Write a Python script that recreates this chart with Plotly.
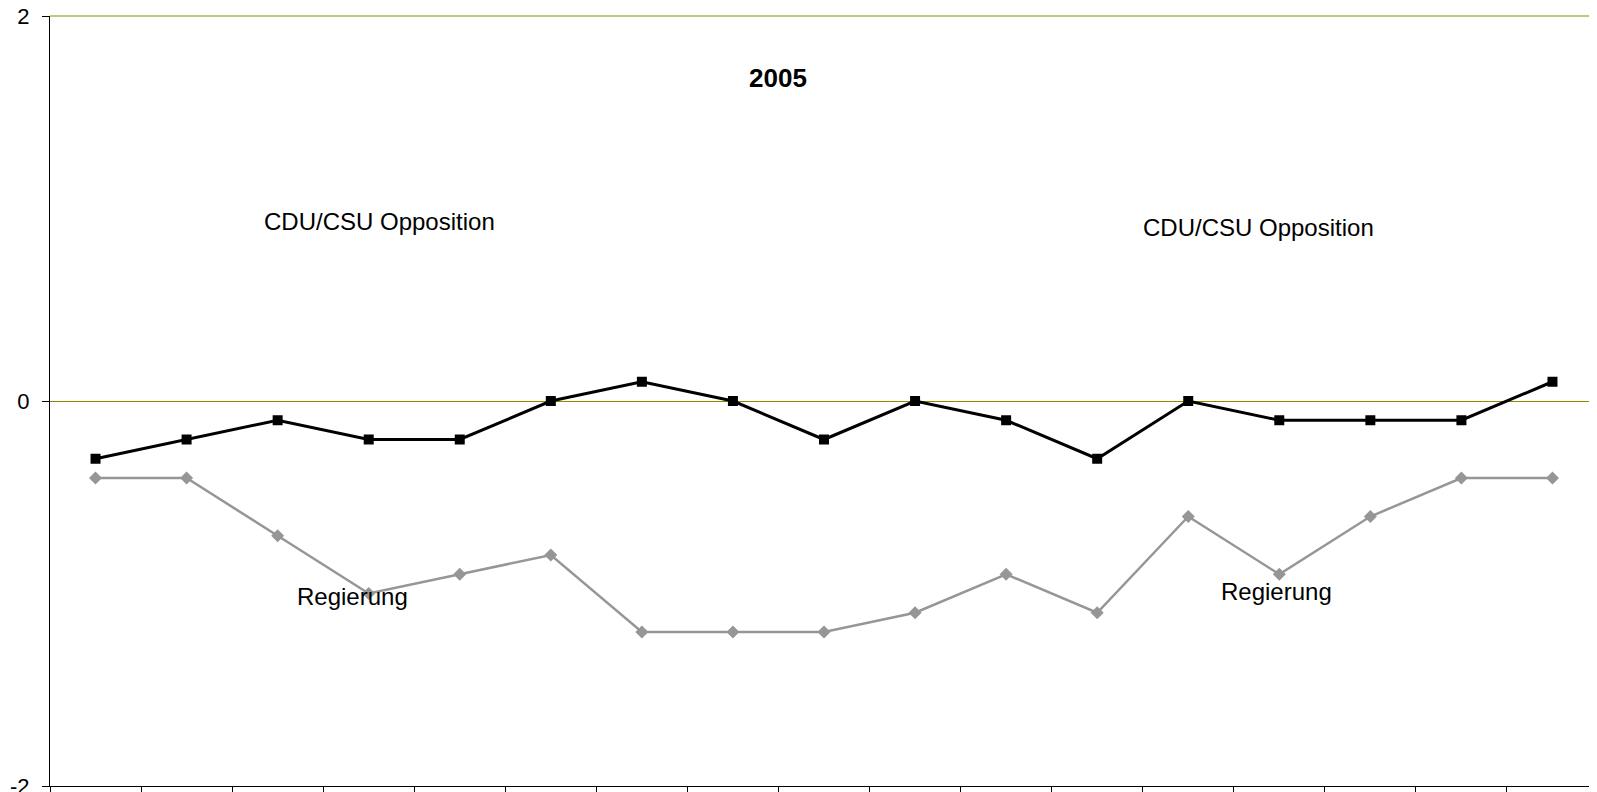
import plotly.graph_objects as go

categories = [str(i) for i in range(1, 18)]
opposition = [-0.3, -0.2, -0.1, -0.2, -0.2, 0.0, 0.1, 0.0, -0.2, 0.0, -0.1, -0.3, 0.0, -0.1, -0.1, -0.1, 0.1]
regierung = [-0.4, -0.4, -0.7, -1.0, -0.9, -0.8, -1.2, -1.2, -1.2, -1.1, -0.9, -1.1, -0.6, -0.9, -0.6, -0.4, -0.4]
y_ticks = [-2, 0, 2]

fig = go.Figure()
fig.add_trace(go.Scatter(
    x=categories, y=regierung, mode="lines+markers", name="Regierung",
    line=dict(color="#969696", width=2.5),
    marker=dict(symbol="diamond", size=10, color="#969696"),
))
fig.add_trace(go.Scatter(
    x=categories, y=opposition, mode="lines+markers", name="CDU/CSU Opposition",
    line=dict(color="#000000", width=3),
    marker=dict(symbol="square", size=10, color="#000000"),
))

font_family = "Liberation Sans, Arial, sans-serif"
ann = [
    dict(text="<b>2005</b>", x=7.49, y=1.68, size=26),
    dict(text="CDU/CSU Opposition", x=3.12, y=0.93, size=24),
    dict(text="CDU/CSU Opposition", x=12.77, y=0.90, size=24),
    dict(text="Regierung", x=2.82, y=-1.013, size=24),
    dict(text="Regierung", x=12.97, y=-0.987, size=24),
]
for a in ann:
    fig.add_annotation(text=a["text"], x=a["x"], y=a["y"], xref="x", yref="y",
                       showarrow=False, font=dict(size=a["size"], color="#000000", family=font_family))

# top gridline at the upper edge of the plot (plotly hides gridlines at the range edge)
fig.add_shape(type="line", xref="paper", yref="paper", x0=0, x1=1, y0=1, y1=1,
              line=dict(color="#8c8c00", width=1.2), layer="below")

fig.update_layout(
    width=1597, height=792,
    margin=dict(l=42, r=7, t=8, b=14, autoexpand=False),
    paper_bgcolor="white", plot_bgcolor="white",
    showlegend=False,
    font=dict(family=font_family, color="#000000"),
)
fig.update_xaxes(
    type="category", range=[-0.5, 16.5], showticklabels=False,
    tickson="boundaries", ticks="outside", ticklen=6, tickcolor="#000000",
    showgrid=False, showline=True, linecolor="#000000", linewidth=1, zeroline=False,
    automargin=False,
)
fig.update_yaxes(
    range=[-2, 2], tickvals=y_ticks, ticktext=[str(v) for v in y_ticks],
    ticks="outside", ticklen=7, tickcolor="#000000", ticklabelstandoff=8,
    ticklabeloverflow="allow",
    tickfont=dict(size=22, color="#000000"),
    showgrid=True, gridcolor="#8c8c00", gridwidth=1.2,
    zeroline=False,
    showline=True, linecolor="#000000", linewidth=1,
    automargin=False,
)

fig.write_html("out.html")
